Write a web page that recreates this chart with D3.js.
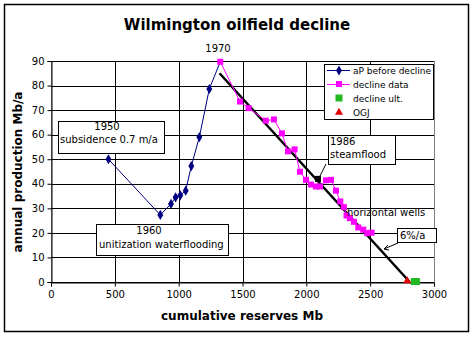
<!DOCTYPE html>
<html>
<head>
<meta charset="utf-8">
<script src="https://cdn.jsdelivr.net/npm/d3@7"></script>
<style>
  body { margin: 0; background: #fff; }
  svg text { font-family: "DejaVu Sans", sans-serif; fill: #000; }
</style>
</head>
<body>
<svg id="chart" width="474" height="337"></svg>
<script>
// aP before decline
const apX = [450, 856, 940, 976, 1013, 1055, 1099, 1162, 1240, 1326];
const apY = [50, 27.3, 31.8, 34.5, 35.3, 37.2, 47.2, 59, 78.6, 89.7];

// decline data
const decX = [1326, 1480, 1548, 1683, 1746, 1809, 1856, 1908, 1950, 1997, 2036, 2075, 2107,
  2154, 2193, 2232, 2266, 2294, 2315, 2341, 2373, 2407, 2446, 2477, 2511];
const decY = [89.7, 73.5, 70.8, 65.7, 66.2, 60.5, 53.2, 54, 44.9, 41.6, 39.7, 38.9, 38.9,
  41.4, 41.6, 37.2, 32.8, 30.5, 27.1, 26, 24.5, 22.2, 21.3, 19.9, 20.1];

// fitted decline line (6%/a) and other points
const fitX = [1320, 2810];
const fitY = [85, 0];
const steamX = [2091], steamY = [42];
const ultX = [2850], ultY = [0];
const ogjX = [2790], ogjY = [0];

const xTicks = [0, 500, 1000, 1500, 2000, 2500, 3000];
const yTicks = [0, 10, 20, 30, 40, 50, 60, 70, 80, 90];
const legendLabels = ["aP before decline", "decline data", "decline ult.", "OGJ"];

const svg = d3.select("#chart");
const x = d3.scaleLinear().domain([0, 3000]).range([51, 434]);
const y = d3.scaleLinear().domain([0, 90]).range([282, 61]);

// outer frame
svg.append("rect").attr("x", 4.5).attr("y", 4.5).attr("width", 464).attr("height", 327)
  .attr("fill", "none").attr("stroke", "#000").attr("stroke-width", 1.5);

// plot area border (right/top grey)
svg.append("rect").attr("x", 51.5).attr("y", 61.5).attr("width", 383).attr("height", 221)
  .attr("fill", "none").attr("stroke", "#808080");

// grid
svg.append("g").selectAll("line").data(yTicks).join("line")
  .attr("x1", 51).attr("x2", 434).attr("y1", d => Math.round(y(d)) + 0.5).attr("y2", d => Math.round(y(d)) + 0.5)
  .attr("stroke", "#000");
svg.append("g").selectAll("line").data(xTicks.slice(1, -1)).join("line")
  .attr("y1", 61).attr("y2", 282).attr("x1", d => Math.round(x(d)) + 0.5).attr("x2", d => Math.round(x(d)) + 0.5)
  .attr("stroke", "#000");

// axes
const xAxis = d3.axisBottom(x).tickValues(xTicks).tickFormat(d3.format("d")).tickSize(4).tickPadding(4);
const yAxis = d3.axisLeft(y).tickValues(yTicks).tickFormat(d3.format("d")).tickSize(4).tickPadding(3);
const gx = svg.append("g").attr("transform", "translate(0,282.5)").call(xAxis);
const gy = svg.append("g").attr("transform", "translate(51.5,0)").call(yAxis);
[gx, gy].forEach(g => {
  g.select(".domain").attr("stroke", "#000");
  g.selectAll(".tick line").attr("stroke", "#000");
  g.selectAll(".tick text").attr("font-size", 10).attr("fill", "#000").attr("font-family", "DejaVu Sans, sans-serif");
});

// title and axis labels
svg.append("text").attr("x", 237).attr("y", 30).attr("text-anchor", "middle")
  .attr("font-size", 15).attr("font-weight", "bold").text("Wilmington oilfield decline");
svg.append("text").attr("x", 242).attr("y", 320).attr("text-anchor", "middle")
  .attr("font-size", 12).attr("font-weight", "bold").text("cumulative reserves Mb");
svg.append("text").attr("transform", "translate(22,172) rotate(-90)").attr("text-anchor", "middle")
  .attr("font-size", 12).attr("font-weight", "bold").text("annual production Mb/a");

// fitted line
svg.append("line").attr("x1", x(fitX[0])).attr("y1", y(fitY[0])).attr("x2", x(fitX[1])).attr("y2", y(fitY[1]))
  .attr("stroke", "#000").attr("stroke-width", 2.5);

const line = d3.line().x(d => x(d[0])).y(d => y(d[1]));
const ap = d3.zip(apX, apY);
const dec = d3.zip(decX, decY);

svg.append("path").attr("d", line(dec)).attr("fill", "none").attr("stroke", "#ff00ff").attr("stroke-width", 1);
svg.append("path").attr("d", line(ap)).attr("fill", "none").attr("stroke", "#000080").attr("stroke-width", 1);

const diamond = d3.symbol().type(d3.symbolDiamond).size(30);
svg.append("g").selectAll("path").data(ap.slice(0, -1)).join("path")
  .attr("d", diamond).attr("transform", d => `translate(${x(d[0])},${y(d[1])})`).attr("fill", "#000080");

svg.append("g").selectAll("rect").data(dec).join("rect")
  .attr("x", d => x(d[0]) - 3).attr("y", d => y(d[1]) - 3).attr("width", 6).attr("height", 6).attr("fill", "#ff00ff");

// steamflood marker on fit line
svg.append("g").selectAll("rect").data(d3.zip(steamX, steamY)).join("rect")
  .attr("x", d => x(d[0]) - 3).attr("y", d => y(d[1]) - 3).attr("width", 6).attr("height", 6).attr("fill", "#000");

// ultimate & OGJ
svg.append("g").selectAll("rect").data(d3.zip(ultX, ultY)).join("rect")
  .attr("x", d => x(d[0]) - 4).attr("y", d => y(d[1]) - 4).attr("width", 9).attr("height", 7).attr("fill", "#22b822");
svg.append("g").selectAll("path").data(d3.zip(ogjX, ogjY)).join("path")
  .attr("d", d3.symbol().type(d3.symbolTriangle).size(28))
  .attr("transform", d => `translate(${x(d[0])},${y(d[1]) - 1})`).attr("fill", "#e00000");

// annotations
function box(x0, y0, w, h) {
  svg.append("rect").attr("x", x0 + 0.5).attr("y", y0 + 0.5).attr("width", w).attr("height", h)
    .attr("fill", "#fff").attr("stroke", "#000");
}
function label(tx, ty, t, anchor) {
  svg.append("text").attr("x", tx).attr("y", ty).attr("font-size", 10)
    .attr("text-anchor", anchor || "start").text(t);
}
svg.append("text").attr("x", 218).attr("y", 52).attr("text-anchor", "middle").attr("font-size", 10).text("1970");

box(58, 121, 106, 32);
label(107, 130, "1950", "middle");
label(60, 143, "subsidence 0.7 m/a");

box(96, 224, 132, 31);
label(149, 234, "1960", "middle");
label(99, 248, "unitization waterflooding");

svg.append("line").attr("x1", 326).attr("y1", 164).attr("x2", 319).attr("y2", 178).attr("stroke", "#000");
box(328, 135, 67, 29);
label(330, 145, "1986");
label(330, 158, "steamflood");

label(347, 216, "horizontal wells");

svg.append("path").attr("d", "M398,243L384,249M384,249l4,-4M384,249l5,1").attr("stroke", "#000").attr("fill", "none");
box(397, 228, 39, 14);
label(400, 239, "6%/a");

// legend
const lg = svg.append("g");
lg.append("rect").attr("x", 324.5).attr("y", 64.5).attr("width", 109).attr("height", 55)
  .attr("fill", "#fff").attr("stroke", "#000");
const rows = [70.5, 84.5, 98.5, 112.5];
lg.append("line").attr("x1", 327).attr("x2", 350).attr("y1", rows[0]).attr("y2", rows[0]).attr("stroke", "#000080");
lg.append("path").attr("d", diamond).attr("transform", `translate(339,${rows[0]})`).attr("fill", "#000080");
lg.append("line").attr("x1", 327).attr("x2", 350).attr("y1", rows[1]).attr("y2", rows[1]).attr("stroke", "#ff00ff");
lg.append("rect").attr("x", 336).attr("y", rows[1] - 3.5).attr("width", 6).attr("height", 6).attr("fill", "#ff00ff");
lg.append("rect").attr("x", 335.5).attr("y", rows[2] - 4).attr("width", 7).attr("height", 7).attr("fill", "#22b822");
lg.append("path").attr("d", d3.symbol().type(d3.symbolTriangle).size(28))
  .attr("transform", `translate(339,${rows[3]})`).attr("fill", "#e00000");
lg.selectAll("text").data(legendLabels).join("text")
  .attr("x", 353).attr("y", (d, i) => rows[i] + 3.5).attr("font-size", 9).text(d => d);
</script>
</body>
</html>
